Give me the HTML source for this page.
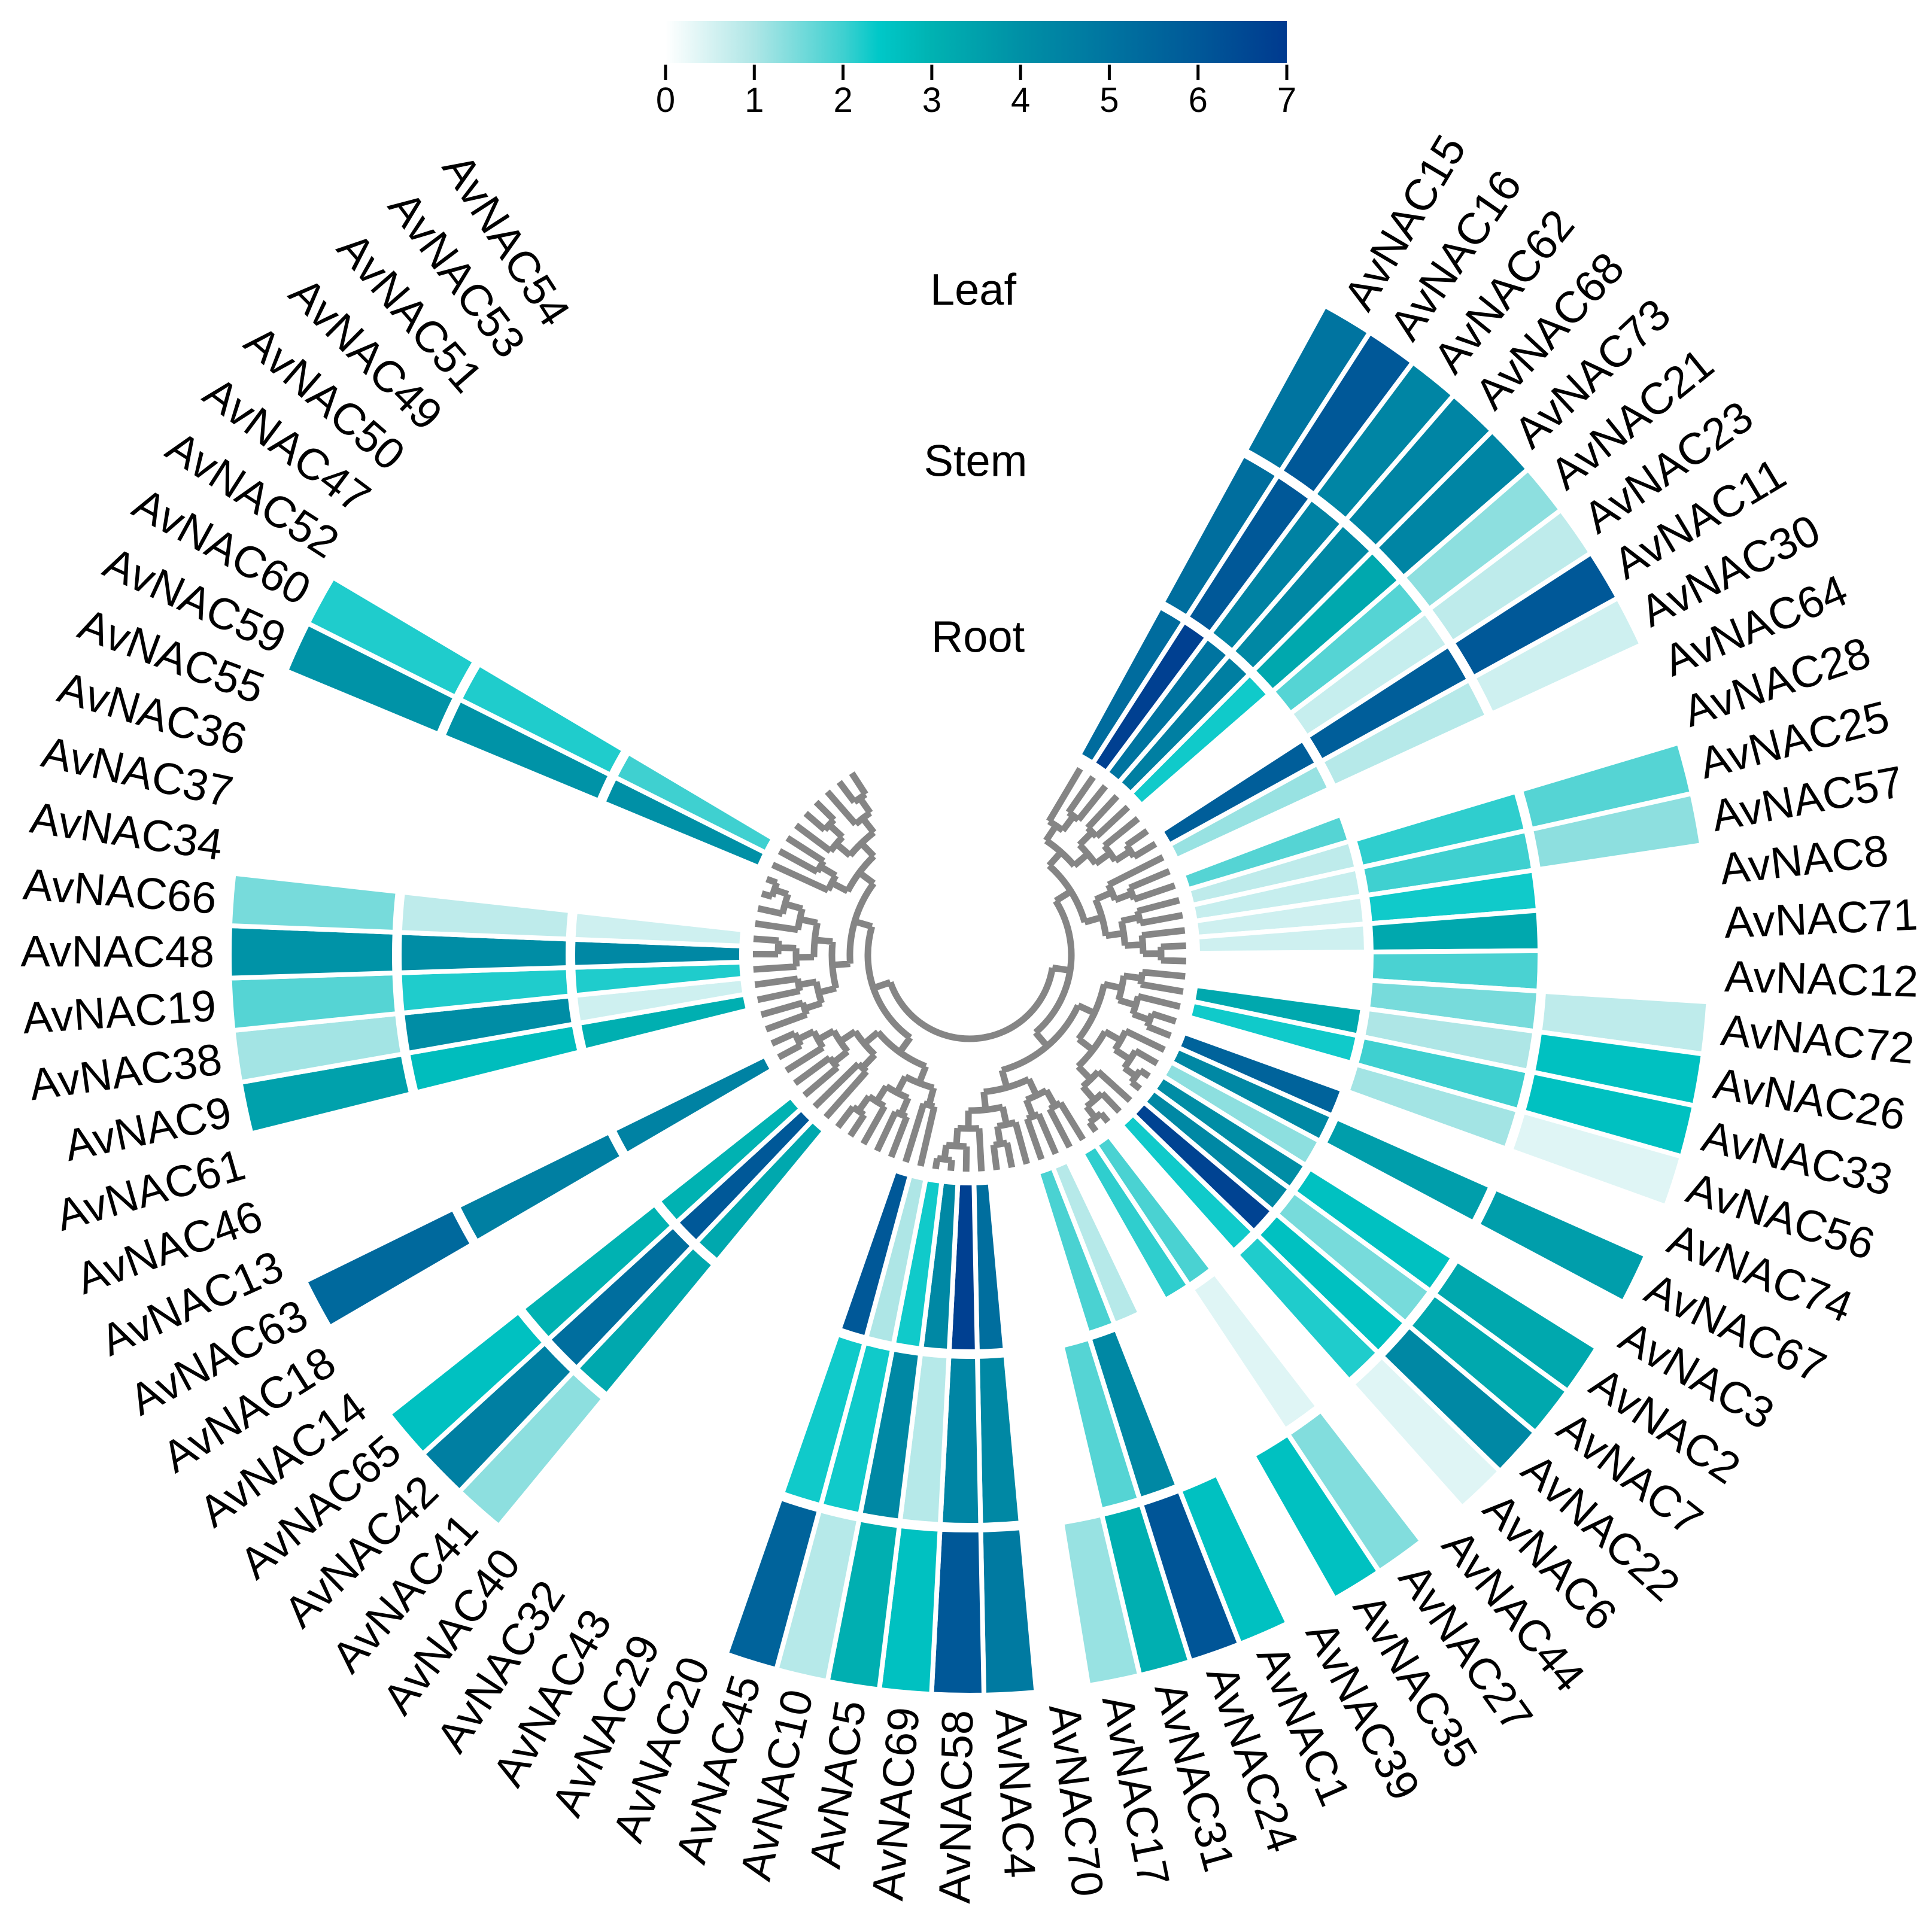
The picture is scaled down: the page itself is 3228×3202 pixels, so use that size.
<!DOCTYPE html>
<html><head><meta charset="utf-8"><title>AvNAC circular heatmap</title>
<style>html,body{margin:0;padding:0;background:#fff}svg{display:block}text{font-family:"Liberation Sans",Arial,sans-serif}</style>
</head><body>
<svg id="chart" xmlns="http://www.w3.org/2000/svg" width="3228" height="3202" viewBox="0 0 3228 3202">
  <g id="colorbar"></g>
  <g id="tree"></g>
  <g id="cells"></g>
  <g id="labels"></g>
  <text x="1626" y="484" font-size="74" text-anchor="middle" dominant-baseline="central">Leaf</text>
  <text x="1630" y="770" font-size="74" text-anchor="middle" dominant-baseline="central">Stem</text>
  <text x="1634" y="1064" font-size="74" text-anchor="middle" dominant-baseline="central">Root</text>
</svg>
<script>
const genes = ["AvNAC15","AvNAC16","AvNAC62","AvNAC68","AvNAC73","AvNAC21","AvNAC23","AvNAC11","AvNAC30","AvNAC64",
"AvNAC28","AvNAC25","AvNAC57","AvNAC8","AvNAC71","AvNAC12","AvNAC72","AvNAC26","AvNAC33","AvNAC56",
"AvNAC74","AvNAC67","AvNAC3","AvNAC2","AvNAC7","AvNAC22","AvNAC6","AvNAC44","AvNAC27","AvNAC35",
"AvNAC39","AvNAC1","AvNAC24","AvNAC31","AvNAC17","AvNAC70","AvNAC4","AvNAC58","AvNAC69","AvNAC5",
"AvNAC10","AvNAC45","AvNAC20","AvNAC29","AvNAC43","AvNAC32","AvNAC40","AvNAC41","AvNAC42","AvNAC65",
"AvNAC14","AvNAC18","AvNAC63","AvNAC13","AvNAC46","AvNAC61","AvNAC9","AvNAC38","AvNAC19","AvNAC48",
"AvNAC66","AvNAC34","AvNAC37","AvNAC36","AvNAC55","AvNAC59","AvNAC60","AvNAC52","AvNAC47","AvNAC50",
"AvNAC49","AvNAC51","AvNAC53","AvNAC54"];
const N = null;
const rootVals = [5.3,6.8,5.0,4.6,2.3,N,N,5.8,1.2,N,
1.8,0.8,0.7,0.6,0.6,N,N,3.3,2.3,N,
5.6,4.3,1.3,4.1,4.3,6.7,2.3,N,1.9,2.1,
N,0.9,1.9,N,N,N,5.2,6.8,4.3,2.3,
1.0,6.0,N,N,N,N,N,3.3,6.0,3.0,
N,N,4.5,N,N,N,3.1,0.6,2.2,4.3,
0.6,N,N,N,N,4.0,2.0,N,N,N,
N,N,N,N];
const stemVals = [5.2,6.0,4.5,4.3,3.3,1.8,0.7,5.8,0.9,N,
N,2.1,2.0,2.3,3.3,1.9,1.5,1.0,2.0,1.1,
N,3.6,N,2.6,1.5,2.6,2.2,N,0.4,N,
N,N,4.3,1.8,N,N,4.3,4.4,0.9,4.3,
2.3,2.3,N,N,N,N,N,3.3,5.2,3.0,
N,N,4.6,N,N,N,2.7,4.1,2.2,4.1,
0.8,N,N,N,N,3.9,2.2,N,N,N,
N,N,N,N];
const leafVals = [5.0,6.0,4.4,4.4,4.4,1.3,0.8,6.0,0.6,N,
N,1.8,1.3,N,N,N,0.8,2.6,2.6,0.4,
N,3.6,N,3.3,3.3,4.3,0.4,N,1.4,2.6,
N,2.6,6.1,3.1,1.2,N,4.8,6.0,2.6,3.1,
0.9,5.6,N,N,N,N,N,1.3,4.6,2.6,
N,N,5.4,N,N,N,3.5,1.1,1.8,3.9,
1.5,N,N,N,N,3.9,2.2,N,N,N,
N,N,N,N];
const colorbarTicks = [0,1,2,3,4,5,6,7];

const NS = "http://www.w3.org/2000/svg";
const CX = 1620, CY = 1596;
const RINGS = [[381,663],[671,953],[961,1237]];
const FIRST = -59.3, STEP = 4.06;
const n = genes.length;
const step = STEP;
const angleOf = i => FIRST + STEP * i;
const rad = d => d * Math.PI / 180;
const stops = [[0,[255,255,255]],[1,[174,230,230]],[2,[63,208,208]],[2.4,[0,200,200]],[3,[0,178,178]],[4,[0,144,166]],[5,[0,116,160]],[6,[0,88,152]],[7,[0,58,143]]];
function colorOf(v){
  v = Math.max(0, Math.min(7, v));
  for (let k = 0; k < stops.length - 1; k++) {
    const a = stops[k], b = stops[k+1];
    if (v <= b[0]) { const t = (v - a[0]) / (b[0] - a[0]);
      const c = a[1].map((x, j) => Math.round(x + (b[1][j] - x) * t));
      return "rgb(" + c.join(",") + ")"; }
  }
  return "rgb(0,58,143)";
}
function pt(r, a){ return [CX + r * Math.cos(rad(a)), CY + r * Math.sin(rad(a))]; }
function sector(r1, r2, a1, a2){
  const p1 = pt(r1, a1), p2 = pt(r2, a1), p3 = pt(r2, a2), p4 = pt(r1, a2);
  return "M" + p1 + "L" + p2 + "A" + r2 + "," + r2 + " 0 0 1 " + p3 + "L" + p4 + "A" + r1 + "," + r1 + " 0 0 0 " + p1 + "Z";
}

const cells = document.getElementById("cells");
const series = [["root", rootVals],["stem", stemVals],["leaf", leafVals]];
series.forEach((s, ri) => {
  s[1].forEach((v, i) => {
    if (v === null || v === undefined) return;
    const a = angleOf(i);
    const p = document.createElementNS(NS, "path");
    p.setAttribute("d", sector(RINGS[ri][0], RINGS[ri][1], a - step/2, a + step/2));
    p.setAttribute("fill", colorOf(v));
    p.setAttribute("stroke", "#fff");
    p.setAttribute("stroke-width", "8");
    
    
    cells.appendChild(p);
  });
});

const labels = document.getElementById("labels");
genes.forEach((g, i) => {
  const a = angleOf(i);
  const [x, y] = pt(1262, a);
  const t = document.createElementNS(NS, "text");
  const flip = a > 90 && a < 270;
  t.setAttribute("x", x); t.setAttribute("y", y);
  t.setAttribute("font-size", "74");
  t.setAttribute("dominant-baseline", "central");
  t.setAttribute("text-anchor", flip ? "end" : "start");
  t.setAttribute("transform", "rotate(" + (flip ? a - 180 : a) + " " + x + " " + y + ")");
  t.textContent = g;
  
  
  labels.appendChild(t);
});

const tree = document.getElementById("tree");
let d = "";
const TIP = 362;
function build(lo, hi, depth){
  if (lo === hi) return {a: angleOf(lo), r: TIP};
  const m = lo + Math.max(0, Math.floor((hi - lo + 1) * (depth % 2 ? 0.42 : 0.55)) - 1);
  const mid = Math.min(hi - 1, Math.max(lo, m));
  const c1 = build(lo, mid, depth + 1), c2 = build(mid + 1, hi, depth + 1);
  const r = Math.min(140 + depth * 30, TIP - 18);
  const p1 = pt(r, c1.a), p2 = pt(r, c2.a);
  const large = (c2.a - c1.a) > 180 ? 1 : 0;
  d += "M" + p1 + "A" + r + "," + r + " 0 " + large + " 1 " + p2;
  [c1, c2].forEach(c => { d += "M" + pt(r, c.a) + "L" + pt(c.r, c.a); });
  return {a: (c1.a + c2.a) / 2, r: r};
}
build(0, n - 1, 0);
const tp = document.createElementNS(NS, "path");
tp.setAttribute("d", d);
tp.setAttribute("fill", "none");
tp.setAttribute("stroke", "#858585");
tp.setAttribute("stroke-width", "11");


tree.appendChild(tp);

const cb = document.getElementById("colorbar");
const X0 = 1112, X1 = 2150;
const defs = document.createElementNS(NS, "defs");
const lg = document.createElementNS(NS, "linearGradient");
lg.setAttribute("id", "cbgrad");
stops.forEach(s => { const st = document.createElementNS(NS, "stop");
  st.setAttribute("offset", (s[0] / 7 * 100) + "%"); st.setAttribute("stop-color", colorOf(s[0])); lg.appendChild(st); });
defs.appendChild(lg); cb.appendChild(defs);
const bar = document.createElementNS(NS, "rect");
bar.setAttribute("x", X0); bar.setAttribute("y", 35); bar.setAttribute("width", X1 - X0); bar.setAttribute("height", 70);
bar.setAttribute("fill", "url(#cbgrad)");


cb.appendChild(bar);
colorbarTicks.forEach(v => {
  const x = X0 + (X1 - X0) * v / 7;
  const l = document.createElementNS(NS, "line");
  l.setAttribute("x1", x); l.setAttribute("x2", x); l.setAttribute("y1", 108); l.setAttribute("y2", 134);
  l.setAttribute("stroke", "#000"); l.setAttribute("stroke-width", "5");
  
  
  cb.appendChild(l);
  const t = document.createElementNS(NS, "text");
  t.setAttribute("x", x); t.setAttribute("y", 187); t.setAttribute("font-size", "58"); t.setAttribute("text-anchor", "middle");
  t.textContent = String(v);
  
  
  cb.appendChild(t);
});
</script>
</body></html>
